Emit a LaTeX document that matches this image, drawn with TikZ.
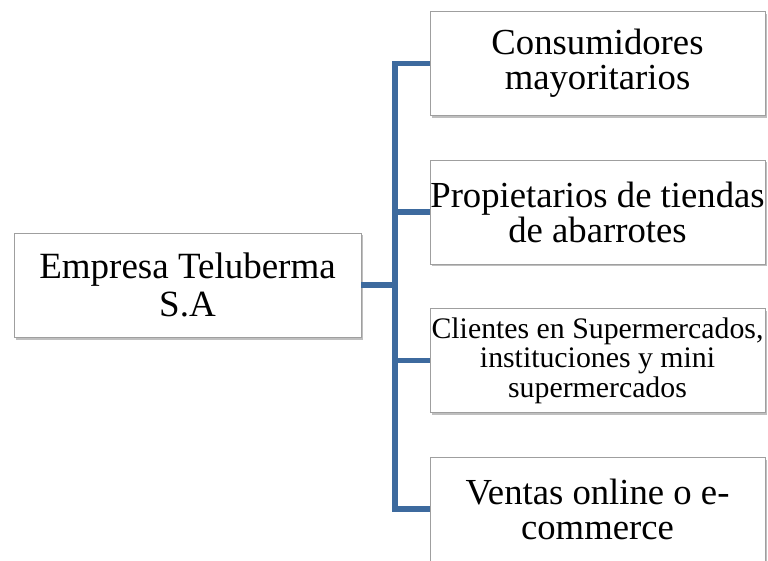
\documentclass[tikz,border=0pt]{standalone}
\usepackage{fontspec}
\setmainfont{Liberation Serif}
\usepackage{tikz}
\usetikzlibrary{shadows}
\definecolor{busblue}{RGB}{61,106,158}
\tikzset{
  box/.style={draw=gray!75, line width=0.9pt, fill=white, inner sep=0pt,
    minimum width=335pt, minimum height=104pt, align=center,
    drop shadow={shadow xshift=1.5pt, shadow yshift=-2.5pt, opacity=0.5, fill=gray}},
  big/.style={font=\fontsize{36.7}{35}\selectfont},
  small/.style={font=\fontsize{29.8}{29.5}\selectfont},
  bus/.style={busblue, line width=5.5pt, line join=miter}
}
\begin{document}
\begin{tikzpicture}[x=1pt, y=-1pt]
              \useasboundingbox (0, 0) rectangle (768, 561);
              \node[box, font=\fontsize{37}{38}\selectfont, minimum width=347pt] (root) at (187.5, 285) {Empresa Teluberma\\S.A};
              \node[box, big] (cons) at (597.5, 63.5) {Consumidores\\mayoritarios};
              \node[box, big] (prop) at (597.5, 212) {Propietarios de tiendas\\de abarrotes};
              \node[box, small] (clie) at (597.5, 360.5) {Clientes en Supermercados,\\instituciones y mini\\supermercados};
              \node[box, big] (vent) at (597.5, 509) {Ventas online o e-\\commerce};
              \coordinate (trunk) at (395, 0);
              \draw[bus] (cons.west) -- (cons.west -| trunk) -- (vent.west -| trunk) -- (vent.west);
              \draw[bus] (root.east) -- (root.east -| trunk);
              \foreach \c in {prop, clie}
                \draw[bus] (\c.west -| trunk) -- (\c.west);
            \end{tikzpicture}
\end{document}
